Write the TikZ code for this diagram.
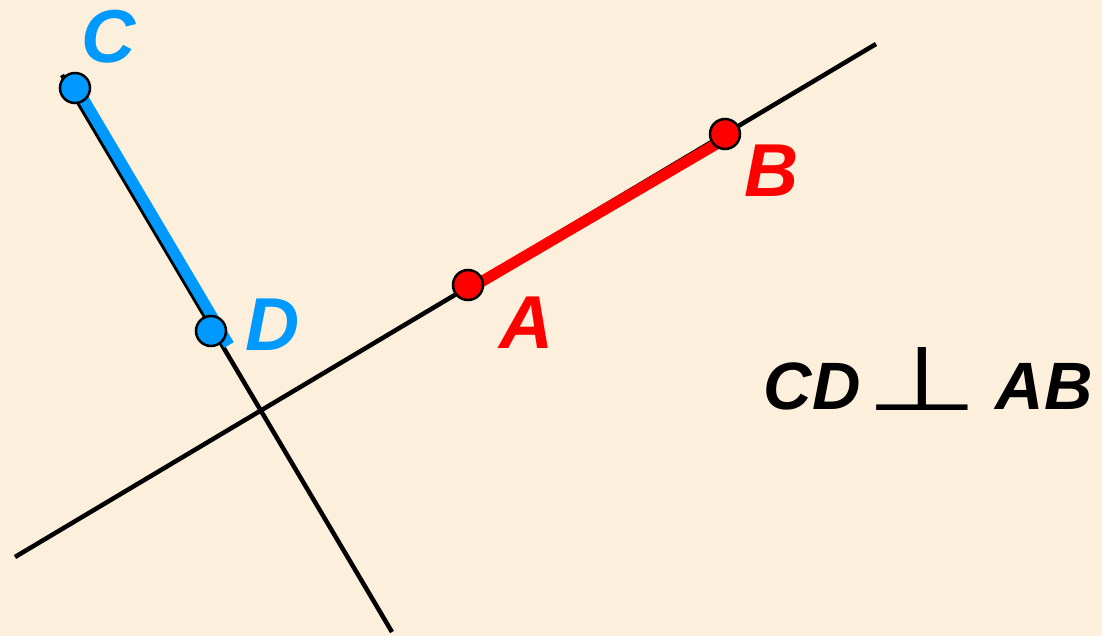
\documentclass[tikz,border=0pt]{standalone}
\usepackage{fontspec}
\setmainfont{Liberation Sans}
\newfontfamily\symfont{DejaVu Sans}
\definecolor{bg}{HTML}{FCF0DC}
\definecolor{ptblue}{HTML}{0099FF}
\definecolor{ptred}{HTML}{FF0000}
\tikzset{
  axis/.style={line width=4.5pt, black},
  seg/.style={line width=11pt},
  pt/.style={circle, draw=black, line width=2.5pt, minimum size=30pt, inner sep=0pt},
  lab/.style={inner sep=0pt, font=\fontsize{75}{80}\selectfont\bfseries\itshape},
  rel/.style={inner sep=0pt, font=\fontsize{67}{72}\selectfont\bfseries\itshape}
}
\begin{document}
\begin{tikzpicture}[x=1pt,y=-1pt]
\fill[bg] (0,0) rectangle (1102,636);
\useasboundingbox (0,0) rectangle (1102,636);
% line ends
\coordinate (L1a) at (15,557);
\coordinate (L1b) at (876,44);
\coordinate (L2a) at (62,75);
\coordinate (L2b) at (392,632);
\coordinate (Cs) at (77,88);
\coordinate (De) at (229,345);
\coordinate (As) at (469,289);
\coordinate (Be) at (725,139);
\draw[axis] (L1a) -- (L1b);
\draw[axis] (L2a) -- (L2b);
% segments
\draw[seg, ptblue] (Cs) -- (De);
\draw[seg, ptred] (As) -- (Be);
% points
\node[pt, fill=ptblue] (C) at (75,88) {};
\node[pt, fill=ptblue] (D) at (211,331) {};
\node[pt, fill=ptred] (A) at (468,285) {};
\node[pt, fill=ptred] (B) at (725,134) {};
% labels
\node[lab, text=ptblue] (labC) at (109,37) {C};
\node[lab, text=ptblue] (labD) at (273,325) {D};
\node[lab, text=ptred] (labA) at (527,323) {A};
\node[lab, text=ptred] (labB) at (772,171) {B};
% relation
\node[rel] (cd) at (812,386) {CD};
\node[inner sep=0pt, anchor=base, font=\symfont\fontsize{90}{94}\selectfont] (perp) at (922,410) {\scalebox{1.45}[1]{⊥}};
\node[rel] (ab) at (1044,386) {AB};
\end{tikzpicture}
\end{document}
